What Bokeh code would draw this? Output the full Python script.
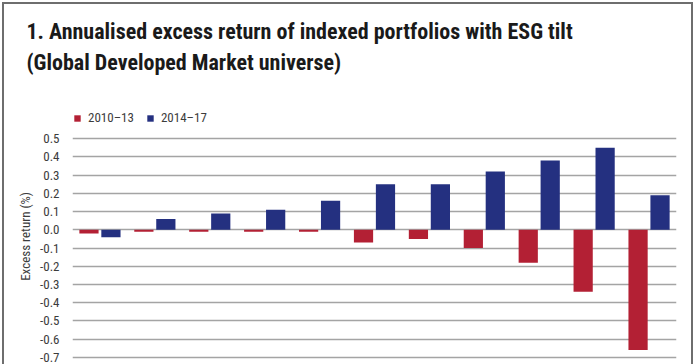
from bokeh.plotting import figure
from bokeh.models import (FactorRange, Range1d, FixedTicker, Legend, LegendItem,
                          ColumnDataSource, Title)
from bokeh.transform import dodge
from bokeh.embed import file_html
from bokeh.resources import INLINE

# ---- data ----
categories = ["1", "2", "3", "4", "5", "6", "7", "8", "9", "10", "11"]
series_names = ["2010–13", "2014–17"]
ret_2010_13 = [-0.02, -0.01, -0.01, -0.01, -0.01, -0.07, -0.05, -0.10, -0.18, -0.34, -0.66]
ret_2014_17 = [-0.04, 0.06, 0.09, 0.11, 0.16, 0.25, 0.25, 0.32, 0.38, 0.45, 0.19]
y_ticks = [0.5, 0.4, 0.3, 0.2, 0.1, 0.0, -0.1, -0.2, -0.3, -0.4, -0.5, -0.6, -0.7]
y_tick_labels = ["0.5", "0.4", "0.3", "0.2", "0.1", "0.0", "-0.1", "-0.2", "-0.3",
                 "-0.4", "-0.5", "-0.6", "-0.7"]
title_line1 = "1. Annualised excess return of indexed portfolios with ESG tilt"
title_line2 = "(Global Developed Market universe)"
y_label = "Excess return (%)"

RED = "#b32034"
BLUE = "#243080"
FONT = "Roboto Condensed"
TXT = "#3c3c3c"

source = ColumnDataSource(dict(cat=categories, a=ret_2010_13, b=ret_2014_17))

p = figure(x_range=FactorRange(*categories), y_range=Range1d(-0.75, 0.677),
           width=687, height=360, output_backend="svg", toolbar_location=None,
           title_location=None,
           min_border_left=68, min_border_right=19, min_border_top=102,
           min_border_bottom=0)
p.styles = {"box-sizing": "content-box", "margin-left": "2px", "margin-top": "2px",
            "border-style": "solid", "border-color": "#6e6e6e",
            "border-width": "2px 2px 0 2px"}
p.outline_line_color = None

r1 = p.vbar(x=dodge("cat", -0.2, range=p.x_range), top="a", width=0.35,
            source=source, fill_color=RED, line_color=None)
r2 = p.vbar(x=dodge("cat", 0.2, range=p.x_range), top="b", width=0.35,
            source=source, fill_color=BLUE, line_color=None)

p.xaxis.visible = False
p.xgrid.grid_line_color = None
p.ygrid.grid_line_color = "#a4a4a4"
p.ygrid.grid_line_width = 1.5
p.ygrid.ticker = FixedTicker(ticks=y_ticks)

ax = p.yaxis[0]
ax.ticker = FixedTicker(ticks=y_ticks)
ax.major_label_overrides = {t: l for t, l in zip(y_ticks, y_tick_labels)}
ax.axis_line_color = None
ax.major_tick_line_color = None
ax.minor_tick_line_color = None
ax.major_label_standoff = 7
ax.major_label_text_font = FONT
ax.major_label_text_font_size = "13px"
ax.major_label_text_color = TXT
ax.axis_label = y_label
ax.axis_label_standoff = 4
ax.axis_label_text_font = FONT
ax.axis_label_text_font_size = "13px"
ax.axis_label_text_font_style = "normal"
ax.axis_label_text_color = TXT

legend = Legend(items=[LegendItem(label=series_names[0], renderers=[r1]),
                       LegendItem(label=series_names[1], renderers=[r2])],
                orientation="horizontal", location=(1, 241),
                glyph_width=8, glyph_height=8, label_standoff=7, spacing=12,
                padding=0, margin=0, border_line_color=None,
                background_fill_alpha=0,
                label_text_font=FONT, label_text_font_size="13px",
                label_text_color=TXT)
p.add_layout(legend, "center")

# blank spacer between the heading and the plot area
p.add_layout(Title(text=" ", standoff=5, text_font=FONT, text_font_size="22px"), "above")
p.add_layout(Title(text=title_line2, align="left", offset=-46, standoff=0,
                   text_font=FONT, text_font_size="22px", text_font_style="bold",
                   text_color="#1a1a1a"), "above")
p.add_layout(Title(text=title_line1, align="left", offset=-46, standoff=8,
                   text_font=FONT, text_font_size="22px", text_font_style="bold",
                   text_color="#1a1a1a"), "above")

open("out.html", "w").write(file_html(p, INLINE))
